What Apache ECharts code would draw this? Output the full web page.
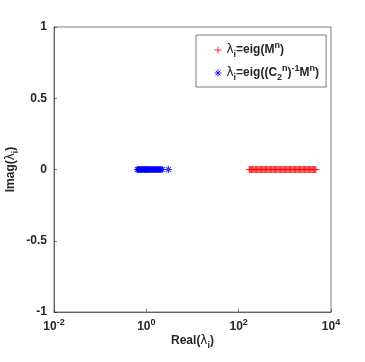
<!DOCTYPE html>
<html>
<head>
<meta charset="utf-8">
<script src="https://cdn.jsdelivr.net/npm/echarts@6/dist/echarts.min.js"></script>
<style>
  html, body { margin: 0; padding: 0; background: #fff; }
  #chart { width: 365px; height: 362px; }
</style>
</head>
<body>
<div id="chart"></div>
<script>
// eigenvalues (all real, imag = 0)
var eigM = [170, 178, 190, 202, 215, 229, 244, 260, 277, 295, 314, 334, 356, 379,
  404, 430, 458, 488, 520, 554, 590, 628, 669, 712, 758, 807, 860, 916, 975, 1038,
  1105, 1177, 1253, 1335, 1421, 1514, 1612, 1717, 1828, 1947, 2073, 2208, 2351, 2504,
  2666, 2840, 3024, 3220, 3430, 3652, 3890, 4142, 4411, 4700];
var eigPre = [0.64, 0.67, 0.7, 0.73, 0.76, 0.8, 0.84, 0.88, 0.92, 0.96, 1.0, 1.05, 1.1,
  1.15, 1.21, 1.27, 1.33, 1.4, 1.47, 1.55, 1.63, 1.72, 1.82, 1.93, 2.05, 2.2, 3.0];
var xTicks = [0.01, 1, 100, 10000];
var yTicks = [-1, -0.5, 0, 0.5, 1];

var axisColor = '#262626';
var font = 'Liberation Sans';
var plusPath = 'path://M5,0L5,10M0,5L10,5';
var starPath = 'path://M5,0L5,10M0,5L10,5M1.5,1.5L8.5,8.5M1.5,8.5L8.5,1.5';

function pts(arr) {
  return arr.map(function (v) { return [v, 0]; });
}

var chart = echarts.init(document.getElementById('chart'));
function richSet(size) {
  return {
    t: { fontFamily: font, fontSize: size, fontWeight: 'bold', color: axisColor, lineHeight: size + 6, verticalAlign: 'middle' },
    l: { fontFamily: 'DejaVu Sans', fontSize: size, color: axisColor, lineHeight: size + 6, verticalAlign: 'middle' },
    sup: { fontFamily: font, fontSize: size - 3, fontWeight: 'bold', color: axisColor, lineHeight: size - 2, verticalAlign: 'top' },
    sub: { fontFamily: font, fontSize: size - 3, fontWeight: 'bold', color: axisColor, lineHeight: size - 2, verticalAlign: 'bottom' }
  };
}

var option = {
  animation: false,
  grid: {
    left: 54, right: 34, top: 27, bottom: 50,
    outerBoundsMode: 'none',
    containLabel: false,
    show: true, borderColor: axisColor, borderWidth: 0.6, backgroundColor: '#fff'
  },
  legend: {
    left: 196, top: 35,
    orient: 'vertical',
    backgroundColor: '#fff',
    borderColor: axisColor, borderWidth: 0.6,
    borderRadius: 0,
    padding: [6, 7, 5, 16],
    itemGap: 5,
    itemWidth: 7, itemHeight: 7,
    data: [
      { name: 'a', icon: plusPath, itemStyle: { color: 'none', borderColor: '#ff0000', borderWidth: 1 } },
      { name: 'b', icon: starPath, itemStyle: { color: 'none', borderColor: '#0000ff', borderWidth: 1 } }
    ],
    formatter: function (name) {
      if (name === 'a') return '{l|λ}{sub|i}{t|=eig(M}{sup|n}{t|)}';
      return '{l|λ}{sub|i}{t|=eig((C}{sub|2}{sup|n}{t|)}{sup|-1}{t|M}{sup|n}{t|)}';
    },
    textStyle: { rich: richSet(12) }
  },
  xAxis: {
    type: 'log',
    logBase: 10,
    min: xTicks[0],
    max: xTicks[xTicks.length - 1],
    interval: 2,
    name: '{t|Real(}{l|λ}{sub|i}{t|)}',
    nameLocation: 'middle',
    nameGap: 20,
    nameMoveOverlap: false,
    nameTextStyle: { rich: richSet(12) },
    axisLine: { onZero: false, lineStyle: { color: axisColor, width: 0.6 } },
    axisTick: { inside: true, length: 3, lineStyle: { color: axisColor, width: 0.6 } },
    minorTick: { show: false },
    splitLine: { show: false },
    axisLabel: {
      margin: 6,
      formatter: function (v) {
        var e = Math.round(Math.log10(v));
        return '{t|10}{sup|' + e + '}';
      },
      rich: richSet(12)
    }
  },
  yAxis: {
    type: 'value',
    min: yTicks[0],
    max: yTicks[yTicks.length - 1],
    interval: 0.5,
    name: '{t|Imag(}{l|λ}{sub|i}{t|)}',
    nameLocation: 'middle',
    nameRotate: 90,
    nameGap: 34,
    nameMoveOverlap: false,
    nameTextStyle: { rich: richSet(12) },
    axisLine: { onZero: false, lineStyle: { color: axisColor, width: 0.6 } },
    axisTick: { inside: true, length: 3, lineStyle: { color: axisColor, width: 0.6 } },
    splitLine: { show: false },
    axisLabel: {
      margin: 7,
      fontFamily: font, fontSize: 12, fontWeight: 'bold', color: axisColor
    }
  },
  series: [
    {
      name: 'a',
      type: 'scatter',
      data: pts(eigM),
      symbol: plusPath,
      symbolSize: 7,
      itemStyle: { color: 'none', borderColor: '#ff0000', borderWidth: 1.2 }
    },
    {
      name: 'b',
      type: 'scatter',
      data: pts(eigPre),
      symbol: starPath,
      symbolSize: 7,
      itemStyle: { color: 'none', borderColor: '#0000ff', borderWidth: 1.2 }
    }
  ]
};
chart.setOption(option);
</script>
</body>
</html>
